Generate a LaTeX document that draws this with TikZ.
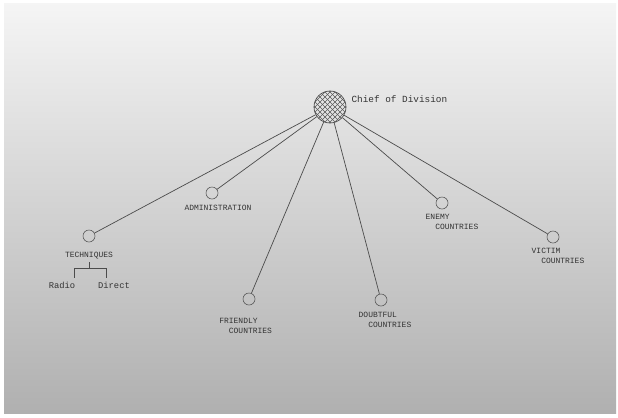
\documentclass[tikz,border=0pt]{standalone}
\usepackage{fontspec}
\setmonofont{Liberation Mono}
\usetikzlibrary{positioning}

\begin{document}
\begin{tikzpicture}[x=0.03cm,y=-0.03cm,
  font=\ttfamily,
  every node/.style={inner sep=0pt},
  post/.style={circle,draw=black!65,line width=0.5pt,minimum size=0.36cm},
  chiefpost/.style={circle,draw=black!70,line width=0.6pt,minimum size=0.96cm,
    path picture={\foreach \d in {-40,-35,...,40}{
      \draw[black!65,line width=0.5pt] (path picture bounding box.center) ++(\d-20,-20) -- ++(40,40);
      \draw[black!65,line width=0.5pt] (path picture bounding box.center) ++(\d-20,20) -- ++(40,-40);}}},
  lbl/.style={font=\fontsize{6.8}{8.5}\selectfont\ttfamily,text=black!80,align=left},
  link/.style={draw=black!70,line width=0.6pt}]
    % paper
    \useasboundingbox (0,0) rectangle (618,417);
    \fill[white] (0,0) rectangle (618,417);
    \shade[top color=gray!8,middle color=gray!26,bottom color=gray!62] (4,3) rectangle (616,413);
    %
    \node[chiefpost] (chief) at (330,107) {};
    \node[right=0.15cm of chief, yshift=0.24cm, font=\fontsize{8}{9}\selectfont\ttfamily, text=black!80] (chief_txt) {Chief of Division};
    \node[post] (tech) at (89,236) {};
    \node[post] (admin) at (212,193) {};
    \node[post] (friend) at (249,299) {};
    \node[post] (doubt) at (381,300) {};
    \node[post] (enemy) at (442,203) {};
    \node[post] (victim) at (553,237) {};
    %
    \node[lbl, below=0.3cm of tech] (tech_txt) {TECHNIQUES};
    \node[lbl, below=0.18cm of admin, xshift=0.18cm] (admin_txt) {ADMINISTRATION};
    \node[lbl, below=0.39cm of friend, xshift=-0.1cm] (friend_txt) {FRIENDLY\\\ \ COUNTRIES};
    \node[lbl, below=0.18cm of doubt, xshift=0.12cm] (doubt_txt) {DOUBTFUL\\\ \ COUNTRIES};
    \node[lbl, below=0.15cm of enemy, xshift=0.3cm] (enemy_txt) {ENEMY\\\ \ COUNTRIES};
    \node[lbl, below=0.15cm of victim, xshift=0.15cm] (victim_txt) {VICTIM\\\ \ COUNTRIES};
    \node[font=\fontsize{7.5}{9}\selectfont\ttfamily, text=black!80] (radio) at (62,285) {Radio};
    \node[font=\fontsize{7.5}{9}\selectfont\ttfamily, text=black!80] (direct) at (114,285) {Direct};
    %
    \draw[link] (chief) -- (tech);
    \draw[link] (chief) -- (admin);
    \draw[link] (chief) -- (friend);
    \draw[link] (chief) -- (doubt);
    \draw[link] (chief) -- (enemy);
    \draw[link] (chief) -- (victim);
    %
    \draw[link,line width=0.5pt] ([yshift=-0.08cm]tech_txt.south) -- ++(0,6) coordinate (fork);
    \draw[link,line width=0.5pt] ([xshift=-0.03cm,yshift=0.12cm]radio.north east) |- (fork) -| ([xshift=0.24cm,yshift=0.12cm]direct.north west);
  \end{tikzpicture}
\end{document}
